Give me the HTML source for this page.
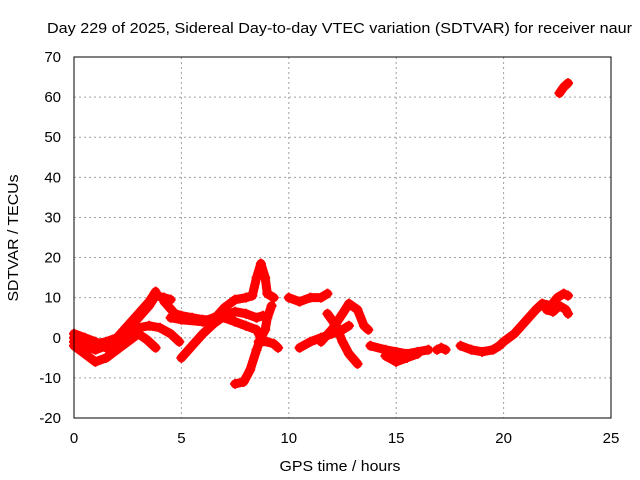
<!DOCTYPE html>
<html><head><meta charset="utf-8"><style>
body{margin:0;background:#fff}
svg{display:block;font-family:"Liberation Sans",sans-serif}
</style></head><body>
<svg id="chart" width="640" height="480" xmlns="http://www.w3.org/2000/svg">
<text x="339.5" y="33" font-size="15" text-anchor="middle" textLength="585" lengthAdjust="spacingAndGlyphs">Day 229 of 2025, Sidereal Day-to-day VTEC variation (SDTVAR) for receiver naur</text>
<text x="340" y="471" font-size="15" text-anchor="middle" textLength="121" lengthAdjust="spacingAndGlyphs">GPS time / hours</text>
<text transform="translate(18,238) rotate(-90)" font-size="15" text-anchor="middle" textLength="127" lengthAdjust="spacingAndGlyphs">SDTVAR / TECUs</text>
<g id="grid"></g>
<g id="ticks"></g>
<g id="marks"></g>
<rect x="74" y="57" width="537" height="361" fill="none" stroke="#000" stroke-width="1"/>
</svg>
<script>
const xTicks=[0,5,10,15,20,25];
const yTicks=[-20,-10,0,10,20,30,40,50,60,70];
const track1=[[0,-1],[0.5,-2],[1,-3],[1.5,-2],[2,-1],[2.5,2],[3,5],[3.5,8],[3.8,10.5],[4.2,10],[4.5,9.5]];
const track2=[[0,0],[0.5,-1],[1,-1.5],[1.5,-1],[2,0],[2.5,3],[3,6],[3.5,9],[3.8,11.5]];
const track3=[[0,-2],[0.5,-4],[1,-6],[1.5,-5],[2,-3],[2.5,0],[3,2.5],[3.5,3],[4,2.5],[4.5,1],[4.9,-1]];
const track4=[[0,1],[0.5,0],[1,-1],[1.5,-2.5],[2,-3],[2.5,-1],[3,1],[3.4,-0.5],[3.8,-2.5]];
const track5=[[4.2,9],[4.7,6],[5,5.5],[5.5,5],[6,4.5],[6.5,4.5],[7,7.5],[7.5,9.5],[8,10],[8.3,10.5],[8.5,15],[8.7,18.5],[8.9,15],[9,11],[9.3,10]];
const track6=[[4.5,5],[5,4.5],[6,4],[6.5,5],[7,5],[7.5,4],[8,3],[8.5,2],[8.7,0]];
const track7=[[5,-5],[5.5,-2],[6,1],[6.5,3.5],[7,5.5],[7.5,6.5],[8,6],[8.5,5],[8.8,5.5]];
const track8=[[7.5,-11.5],[7.9,-11],[8.2,-8],[8.5,-3],[8.7,0],[8.9,2],[9,5],[9.2,8]];
const track9=[[8.6,-1],[9,-1],[9.3,-1.5],[9.5,-2.5]];
const track10=[[10,10],[10.5,9],[11,10],[11.5,10],[11.8,11]];
const track11=[[10.5,-2.5],[11,-1],[11.5,0],[12,1],[12.5,2],[12.8,3]];
const track12=[[11.5,-1],[12,2],[12.5,6],[12.8,8.5],[13.2,7],[13.5,3],[13.7,2]];
const track13=[[11.8,6],[12.2,3],[12.5,-1],[12.8,-4],[13.2,-6.5]];
const track14=[[13.8,-2],[14.5,-3],[15,-3.5],[15.5,-4],[16,-3.5],[16.5,-3]];
const track15=[[14.5,-4.5],[15,-6],[15.5,-5],[16,-4]];
const track16=[[16.9,-3],[17.1,-2.5],[17.3,-3]];
const track17=[[18,-2],[18.5,-3],[19,-3.5],[19.5,-3],[19.8,-2],[20,-1],[20.5,1],[21,4],[21.5,7],[21.8,8.5],[22.2,8],[22.5,10],[22.8,11],[23,10.5]];
const track18=[[22,7],[22.3,6.5],[22.6,8],[22.9,7],[23,6]];
const track19=[[22.6,61],[22.8,62.5],[23,63.5]];
const tracks=[track1,track2,track3,track4,track5,track6,track7,track8,track9,track10,track11,track12,track13,track14,track15,track16,track17,track18,track19];
const NS="http://www.w3.org/2000/svg";
const X=h=>74+h*537/25;
const Y=v=>418-(v+20)*361/90;
function mk(tag,attrs,parent){const e=document.createElementNS(NS,tag);for(const k in attrs)e.setAttribute(k,attrs[k]);parent.appendChild(e);return e;}
const grid=document.getElementById('grid'),ticks=document.getElementById('ticks'),marks=document.getElementById('marks');
xTicks.forEach(t=>{
  if(t>0&&t<25){const g=mk('line',{x1:X(t),x2:X(t),y1:57,y2:418,stroke:'#a0a0a0','stroke-dasharray':'2,3'},grid);
  
  }
  const l=mk('text',{x:X(t),y:443,'font-size':15,'text-anchor':'middle'},ticks);l.textContent=t;
  
  
});
yTicks.forEach(t=>{
  if(t>-20&&t<70){const g=mk('line',{x1:74,x2:611,y1:Y(t),y2:Y(t),stroke:'#a0a0a0','stroke-dasharray':'2,3'},grid);
  
  }
  const l=mk('text',{x:61,y:Y(t)+5,'font-size':15,'text-anchor':'end'},ticks);l.textContent=t;
  
  
});
tracks.forEach((tr,i)=>{
  const pts=tr.map(p=>X(p[0])+','+Y(p[1])).join(' ');
  const pl=mk('polyline',{points:pts,fill:'none',stroke:'#ff0000','stroke-width':9,'stroke-linejoin':'round','stroke-linecap':'round'},marks);
  
  
  tr.forEach(p=>{
    const x=X(p[0]),y=Y(p[1]);
    const m=mk('path',{d:`M${x-5},${y}H${x+5}M${x},${y-5}V${y+5}`,stroke:'#ff0000','stroke-width':2},marks);
    
    
  });
});
</script>
</body></html>
